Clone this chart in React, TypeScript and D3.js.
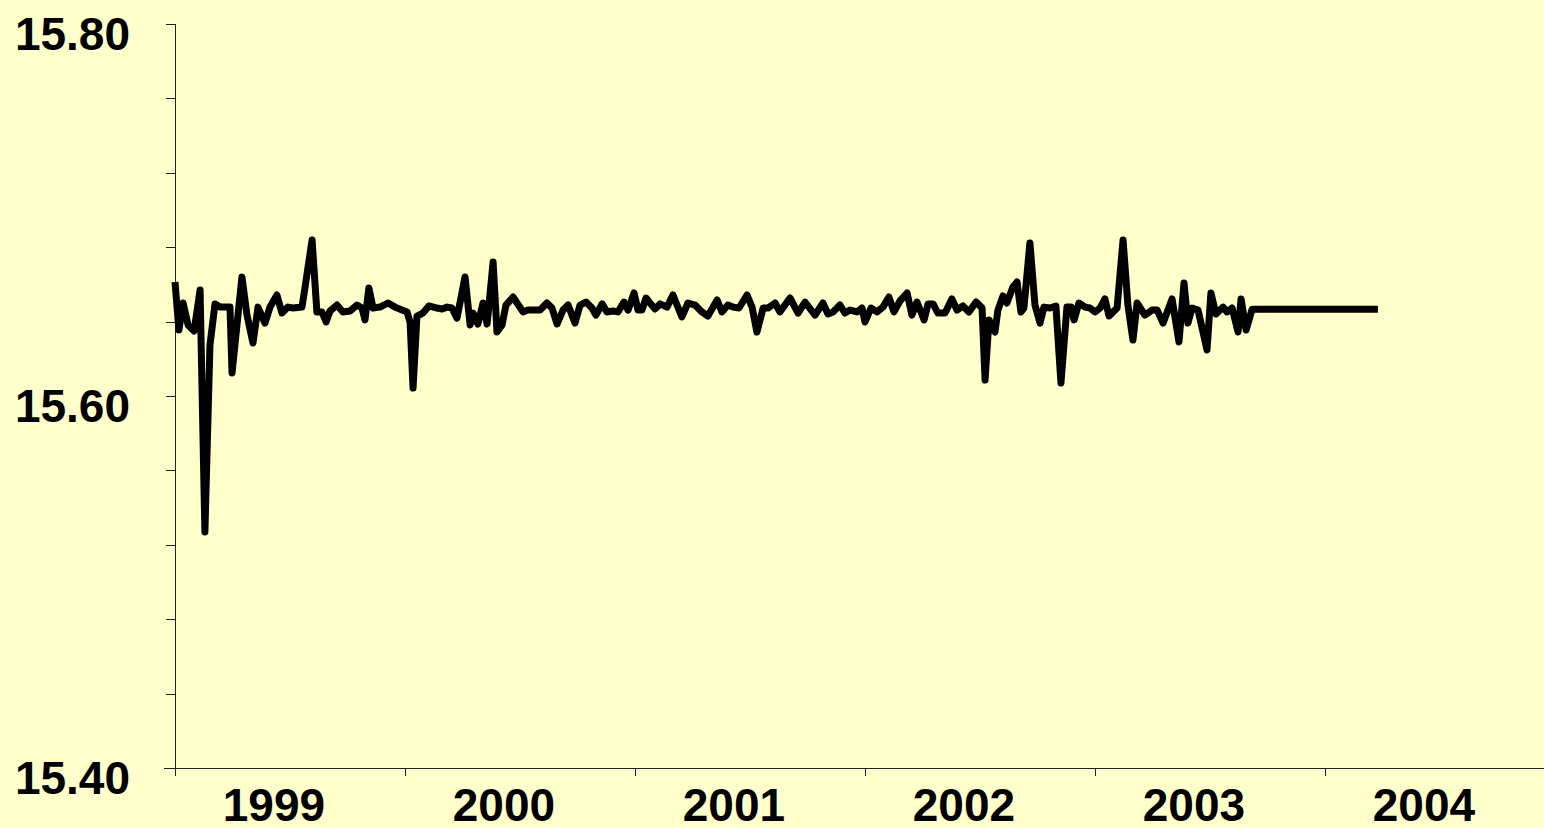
import React from "react";
import * as d3 from "d3";

// Decimal years of the plotted observations
const dates: number[] = [
  1999.000, 1999.017, 1999.035, 1999.057, 1999.083, 1999.109, 1999.130, 1999.152, 1999.174, 1999.196,
  1999.239, 1999.248, 1999.291, 1999.313, 1999.339, 1999.361, 1999.391, 1999.413, 1999.443, 1999.465,
  1999.491, 1999.513, 1999.552, 1999.565, 1999.596, 1999.617, 1999.639, 1999.657, 1999.674, 1999.704,
  1999.730, 1999.761, 1999.791, 1999.813, 1999.826, 1999.843, 1999.861, 1999.891, 1999.926, 1999.957,
  1999.987, 2000.009, 2000.022, 2000.035, 2000.052, 2000.078, 2000.104, 2000.139, 2000.161, 2000.183,
  2000.204, 2000.226, 2000.261, 2000.283, 2000.296, 2000.317, 2000.339, 2000.357, 2000.383, 2000.400,
  2000.422, 2000.439, 2000.470, 2000.513, 2000.535, 2000.557, 2000.587, 2000.617, 2000.639, 2000.661,
  2000.687, 2000.709, 2000.739, 2000.761, 2000.787, 2000.813, 2000.830, 2000.857, 2000.878, 2000.904,
  2000.926, 2000.952, 2000.970, 2000.996, 2001.013, 2001.030, 2001.048, 2001.065, 2001.087, 2001.109,
  2001.139, 2001.165, 2001.204, 2001.230, 2001.261, 2001.291, 2001.317, 2001.357, 2001.378, 2001.404,
  2001.426, 2001.452, 2001.487, 2001.509, 2001.530, 2001.557, 2001.578, 2001.609, 2001.630, 2001.674,
  2001.709, 2001.739, 2001.783, 2001.817, 2001.839, 2001.861, 2001.891, 2001.913, 2001.935, 2001.965,
  2001.987, 2002.000, 2002.026, 2002.052, 2002.078, 2002.104, 2002.126, 2002.152, 2002.183, 2002.204,
  2002.226, 2002.257, 2002.274, 2002.296, 2002.317, 2002.348, 2002.378, 2002.400, 2002.426, 2002.452,
  2002.483, 2002.509, 2002.522, 2002.539, 2002.565, 2002.578, 2002.600, 2002.617, 2002.643, 2002.661,
  2002.678, 2002.691, 2002.717, 2002.739, 2002.761, 2002.778, 2002.804, 2002.830, 2002.852, 2002.878,
  2002.896, 2002.909, 2002.930, 2002.957, 2002.978, 2003.000, 2003.022, 2003.043, 2003.061, 2003.096,
  2003.122, 2003.143, 2003.165, 2003.183, 2003.217, 2003.248, 2003.270, 2003.296, 2003.335, 2003.365,
  2003.387, 2003.404, 2003.422, 2003.448, 2003.487, 2003.504, 2003.526, 2003.557, 2003.574, 2003.596,
  2003.622, 2003.635, 2003.657, 2003.683, 2004.230,
];

// Exchange rate values (EEK per EUR)
const rates: number[] = [
  15.6613, 15.6355, 15.6500, 15.6382, 15.6349, 15.6570, 15.5269, 15.6274, 15.6495, 15.6478,
  15.6478, 15.6124, 15.6640, 15.6435, 15.6285, 15.6478, 15.6392, 15.6478, 15.6543, 15.6446,
  15.6478, 15.6473, 15.6478, 15.6581, 15.6839, 15.6452, 15.6452, 15.6398, 15.6457, 15.6489,
  15.6452, 15.6457, 15.6489, 15.6473, 15.6409, 15.6581, 15.6473, 15.6478, 15.6500, 15.6478,
  15.6462, 15.6452, 15.6398, 15.6043, 15.6430, 15.6446, 15.6484, 15.6473, 15.6468, 15.6478,
  15.6473, 15.6419, 15.6640, 15.6382, 15.6446, 15.6387, 15.6500, 15.6387, 15.6720, 15.6344,
  15.6382, 15.6489, 15.6532, 15.6452, 15.6462, 15.6462, 15.6462, 15.6500, 15.6473, 15.6387,
  15.6462, 15.6489, 15.6392, 15.6489, 15.6505, 15.6473, 15.6435, 15.6495, 15.6452, 15.6457,
  15.6452, 15.6505, 15.6462, 15.6554, 15.6462, 15.6462, 15.6527, 15.6500, 15.6468, 15.6495,
  15.6478, 15.6543, 15.6425, 15.6500, 15.6489, 15.6452, 15.6430, 15.6516, 15.6452, 15.6489,
  15.6478, 15.6473, 15.6543, 15.6478, 15.6344, 15.6473, 15.6473, 15.6500, 15.6452, 15.6527,
  15.6446, 15.6505, 15.6435, 15.6500, 15.6441, 15.6452, 15.6489, 15.6446, 15.6462, 15.6452,
  15.6473, 15.6398, 15.6473, 15.6452, 15.6478, 15.6532, 15.6452, 15.6511, 15.6554, 15.6435,
  15.6505, 15.6409, 15.6495, 15.6495, 15.6446, 15.6446, 15.6522, 15.6462, 15.6484, 15.6452,
  15.6505, 15.6473, 15.6086, 15.6409, 15.6344, 15.6462, 15.6538, 15.6500, 15.6586, 15.6613,
  15.6452, 15.6473, 15.6823, 15.6489, 15.6392, 15.6478, 15.6473, 15.6484, 15.6070, 15.6478,
  15.6478, 15.6409, 15.6500, 15.6478, 15.6473, 15.6452, 15.6473, 15.6522, 15.6430, 15.6473,
  15.6839, 15.6489, 15.6301, 15.6500, 15.6435, 15.6462, 15.6462, 15.6392, 15.6522, 15.6290,
  15.6608, 15.6392, 15.6473, 15.6462, 15.6247, 15.6554, 15.6441, 15.6478, 15.6452, 15.6473,
  15.6344, 15.6522, 15.6355, 15.6466, 15.6466,
];

const yearLabels: number[] = [1999, 2000, 2001, 2002, 2003, 2004];
const yLabelValues: number[] = [15.8, 15.6, 15.4];
const yDomain: [number, number] = [15.4, 15.8];
const xDomain: [number, number] = [1999, 2005];

const W = 1544;
const H = 828;
const FONT = "'Liberation Sans', Arial, Helvetica, sans-serif";

export default function App() {
  const x = d3.scaleLinear().domain(xDomain).range([175, 1555]);
  const y = d3.scaleLinear().domain(yDomain).range([768, 24]);

  const pts: [number, number][] = dates.map((d, i) => [d, rates[i]]);
  const line = d3
    .line<[number, number]>()
    .x((d) => x(d[0]))
    .y((d) => y(d[1]));

  const yTicks = d3.range(0, 11).map((i) => 15.4 + i * 0.04);
  const xTicks = d3.range(1999, 2006);

  return (
    <svg
      width={W}
      height={H}
      style={{ position: "fixed", left: 0, top: 0, display: "block" }}
    >
      <rect x={0} y={0} width={W} height={H} fill="#FFFFCC" />
      {/* y axis */}
      <line x1={175.5} x2={175.5} y1={24} y2={776} stroke="#222" strokeWidth={1} />
      {yTicks.map((t, i) => (
        <line key={i} x1={166} x2={175} y1={Math.round(y(t)) + 0.5} y2={Math.round(y(t)) + 0.5} stroke="#222" strokeWidth={1} />
      ))}
      {/* x axis */}
      <line x1={164} x2={W} y1={768.5} y2={768.5} stroke="#222" strokeWidth={1} />
      {xTicks.map((t) => (
        <line key={t} x1={Math.round(x(t)) + 0.5} x2={Math.round(x(t)) + 0.5} y1={768} y2={776} stroke="#222" strokeWidth={1} />
      ))}
      {yLabelValues.map((v) => (
        <text
          key={v}
          x={130}
          y={y(v) + 26}
          textAnchor="end"
          fontFamily={FONT}
          fontWeight="bold"
          fontSize={46}
          fill="#000"
        >
          {v.toFixed(2)}
        </text>
      ))}
      {yearLabels.map((yr) => (
        <text
          key={yr}
          x={x(yr + 0.43)}
          y={821}
          textAnchor="middle"
          fontFamily={FONT}
          fontWeight="bold"
          fontSize={46}
          fill="#000"
        >
          {yr}
        </text>
      ))}
      <path
        d={line(pts) || ""}
        fill="none"
        stroke="#000"
        strokeWidth={7}
        strokeLinejoin="round"
        strokeLinecap="butt"
      />
    </svg>
  );
}
